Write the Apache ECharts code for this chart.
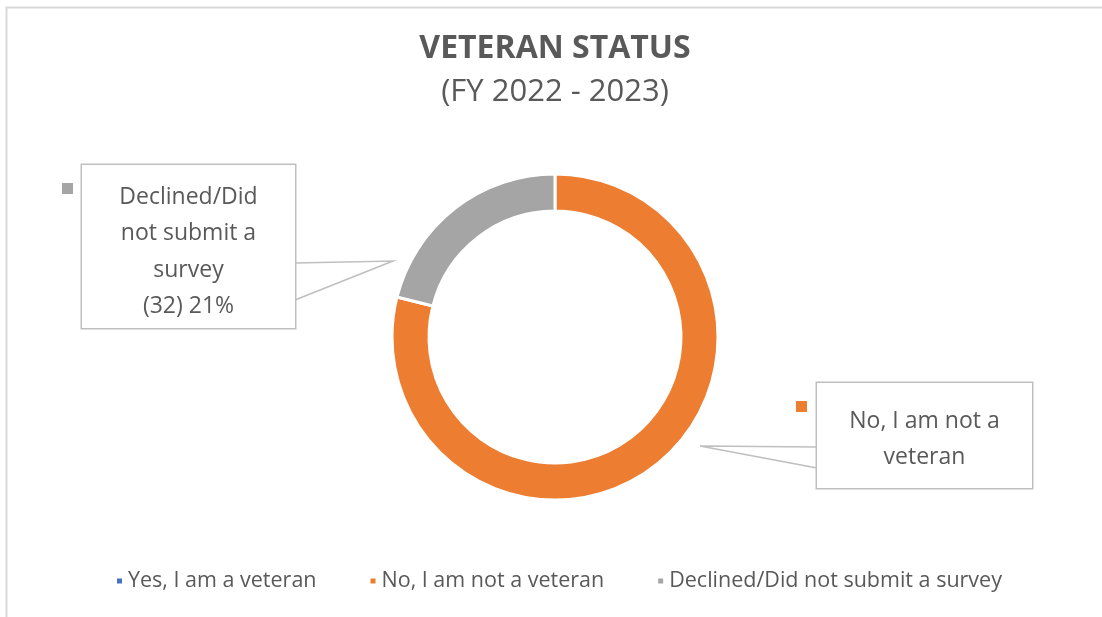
<!DOCTYPE html>
<html>
<head>
<meta charset="utf-8">
<script src="https://cdn.jsdelivr.net/npm/echarts@6/dist/echarts.min.js"></script>
<style>
  html, body { margin: 0; padding: 0; background: #fff; }
  #chart { width: 1102px; height: 617px; }
</style>
</head>
<body>
<div id="chart"></div>
<script>
const categories = ['Yes, I am a veteran', 'No, I am not a veteran', 'Declined/Did not submit a survey'];
const counts = [0, 120, 32];
const percents = [0, 79, 21];
const colors = ['#4472c4', '#ed7d31', '#a5a5a5'];
const calloutText = ['', 'No, I am not a\nveteran', 'Declined/Did\nnot submit a\nsurvey\n(32) 21%'];

const FONT = '"Open Sans", Lato, sans-serif';
const TEXT_COLOR = '#595959';

// callout boxes (label anchor = top centre of box) and their pointer tips
const callouts = {
    1: { x: 924.5, y: 383, tip: [700, 446], edge: [817, 447, 468] },
    2: { x: 188.5, y: 165, tip: [393, 261], edge: [295, 263, 300] },
};

const chart = echarts.init(document.getElementById('chart'));

chart.setOption({
    animation: false,
    color: colors,
    title: [
        {
            text: 'VETERAN STATUS',
            left: 550,
            top: 28,
            textAlign: 'center',
            textStyle: { fontFamily: FONT, fontSize: 32, fontWeight: 'bold', color: TEXT_COLOR },
        },
        {
            text: '(FY 2022 - 2023)',
            left: 550,
            top: 72,
            textAlign: 'center',
            textStyle: { fontFamily: FONT, fontSize: 31, fontWeight: 'normal', color: TEXT_COLOR },
        },
    ],
    legend: {
        bottom: 20,
        left: 110,
        itemWidth: 7,
        itemHeight: 7,
        itemGap: 52,
        icon: 'rect',
        textStyle: { fontFamily: FONT, fontSize: 21.5, color: TEXT_COLOR },
        data: categories,
    },
    graphic: [
        {
            type: 'rect',
            shape: { x: 6.5, y: 7.5, width: 1200, height: 700 },
            style: { fill: 'none', stroke: '#d9d9d9', lineWidth: 2 },
            silent: true,
        },
        {
            type: 'rect',
            shape: { x: 62, y: 183, width: 11, height: 11 },
            style: { fill: colors[2] },
            silent: true,
        },
        {
            type: 'rect',
            shape: { x: 796, y: 401, width: 11, height: 11 },
            style: { fill: colors[1] },
            silent: true,
        },
    ],
    series: [
        {
            name: 'Veteran Status',
            type: 'pie',
            center: [555, 337],
            radius: [126, 163],
            startAngle: 90,
            clockwise: true,
            avoidLabelOverlap: false,
            itemStyle: { borderColor: '#fff', borderWidth: 3 },
            label: {
                show: true,
                formatter: (p) => calloutText[p.dataIndex],
                fontFamily: FONT,
                fontSize: 23,
                lineHeight: 36.5,
                color: TEXT_COLOR,
                align: 'center',
                backgroundColor: '#fff',
                borderColor: '#bfbfbf',
                borderWidth: 1.5,
                padding: [14, 10, 3, 10],
                width: 193,
            },
            labelLine: {
                show: true,
                length: 20,
                length2: 20,
                lineStyle: { color: '#bfbfbf', width: 1.5 },
            },
            labelLayout: (params) => {
                const c = callouts[params.dataIndex];
                if (!c) {
                    return {};
                }
                return {
                    x: c.x,
                    y: c.y,
                    align: 'center',
                    verticalAlign: 'top',
                    labelLinePoints: [
                        [c.edge[0], c.edge[1]],
                        c.tip,
                        [c.edge[0], c.edge[2]],
                    ],
                };
            },
            data: categories.map((name, i) => {
                const item = { name, value: counts[i], percent: percents[i] };
                if (i === 0) {
                    item.label = { show: false };
                    item.labelLine = { show: false };
                } else if (i === 1) {
                    item.label = { padding: [20, 10, 12, 10], width: 195 };
                }
                return item;
            }),
        },
    ],
});
</script>
</body>
</html>
